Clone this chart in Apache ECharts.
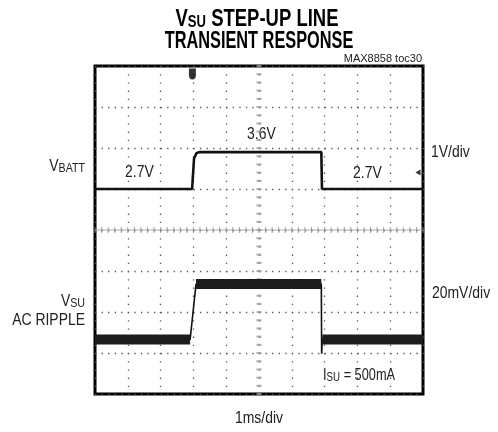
<!DOCTYPE html>
<html><head><meta charset="utf-8">
<script src="https://cdn.jsdelivr.net/npm/echarts@6/dist/echarts.min.js"></script>
<style>html,body{margin:0;padding:0;background:#fff}#c{width:498px;height:432px}</style>
</head><body><div id="c"></div>
<script>
// ---- data read from the scope shot ----
// time axis: 1 ms/div, 10 divisions
const timeTicks = [0,1,2,3,4,5,6,7,8,9,10];
// VBATT (volts), 1 V/div
const vbattTime  = [0, 2.96, 3.02, 3.10, 3.20, 6.90, 6.92, 10];
const vbattValue = [2.7, 2.7, 3.45, 3.58, 3.6, 3.6, 2.7, 2.7];
// VSU AC ripple (mV, relative), 20 mV/div
const vsuTime  = [0, 2.90, 3.08, 6.90, 6.91, 6.93, 10];
const vsuValue = [0, 0, 27, 27, -7, 0, 0];
// markers
const triggerTime = 2.97;
const ch1MarkerDiv = 1.4;
// labels
const levelLabels = ['2.7V', '3.6V', '2.7V'];

const FONT = "'Liberation Sans',Arial,sans-serif";
const TXT = '#222';
const SX = 0.82;

const vbattData = vbattTime.map((t,i)=>[t, vbattValue[i]]);
const vsuData = vsuTime.map((t,i)=>[t, vsuValue[i]]);
// thick noise band only over flat parts
const vsuBand = [];
for (let i=0;i<vsuTime.length;i++){
  vsuBand.push([vsuTime[i], vsuValue[i]]);
  if (i<vsuTime.length-1 && vsuValue[i+1]!==vsuValue[i]) vsuBand.push([vsuTime[i], '-']);
}
// center graticule ticks (1/5 division)
const hTicks=[], vTicks=[];
for (let k=0;k<=50;k++) hTicks.push([k/5, 0]);
for (let k=-20;k<=20;k++) vTicks.push([5, k/5]);

const chart = echarts.init(document.getElementById('c'), null, {renderer:'canvas'});

function txt(text, x, y, align, opts){
  opts = opts || {};
  const fs = opts.fs || 17, ss = opts.ss || 13, w = opts.bold ? 'bold' : 'normal', col = opts.color || TXT;
  return {type:'text', x:x, y:y, scaleX:opts.sx || SX, silent:true, style:{
    text:text, fill:col, font:w+' '+fs+'px '+FONT, align:align||'left', verticalAlign:'middle',
    rich:{
      v:{fontSize:fs, fontFamily:FONT, fontWeight:w, fill:col, lineHeight:fs+4, verticalAlign:'bottom'},
      s:{fontSize:ss, fontFamily:FONT, fontWeight:w, fill:col, lineHeight:ss, verticalAlign:'bottom'}
    }}};
}

chart.setOption({
  animation:false,
  backgroundColor:'#fff',
  grid:{left:95, top:66, width:328, height:328, show:true, borderColor:'#000', borderWidth:3, backgroundColor:'transparent'},
  xAxis:{type:'value', min:0, max:10, interval:1,
    axisLine:{show:false}, axisTick:{show:false}, axisLabel:{show:false},
    splitLine:{show:true, lineStyle:{color:'#555', width:1.3, type:[1.3,6.9]}}},
  yAxis:[
    {type:'value', min:-4, max:4, interval:1,
      axisLine:{show:false}, axisTick:{show:false}, axisLabel:{show:false},
      splitLine:{show:true, lineStyle:{color:'#555', width:1.3, type:[1.3,5.26]}}},
    {type:'value', min:-2.3, max:5.7, show:false, splitLine:{show:false}},
    {type:'value', min:-26.6, max:133.4, show:false, splitLine:{show:false}}
  ],
  series:[
    {type:'line', yAxisIndex:0, data:[[0,0],[10,0]], symbol:'none', silent:true,
      lineStyle:{color:'#aaa', width:1}, z:1},
    {type:'scatter', yAxisIndex:0, data:hTicks, symbol:'rect', symbolSize:[1,6], silent:true,
      itemStyle:{color:'#888'}, z:1},
    {type:'scatter', yAxisIndex:0, data:vTicks, symbol:'rect', symbolSize:[5,2], silent:true,
      itemStyle:{color:'#999'}, z:1},
    {type:'line', yAxisIndex:1, data:vbattData, symbol:'none', silent:true,
      lineStyle:{color:'#111', width:2.6}, z:5},
    {type:'line', yAxisIndex:2, data:vsuData, symbol:'none', silent:true,
      lineStyle:{color:'#111', width:1.6}, z:5},
    {type:'line', yAxisIndex:2, data:vsuBand, symbol:'none', silent:true, connectNulls:false,
      lineStyle:{color:'#1c1c1c', width:10}, z:5},
    {type:'scatter', yAxisIndex:0, data:[[triggerTime, 4]], silent:true,
      symbol:'path://M0,0 L10,0 L10,9 Q10,15 5,15 Q0,15 0,9 Z', symbolSize:[7,11], symbolOffset:[0,8],
      itemStyle:{color:'#000'}, z:6},
    {type:'scatter', yAxisIndex:0, data:[[10, ch1MarkerDiv]], silent:true,
      symbol:'triangle', symbolRotate:90, symbolSize:[6,5], symbolOffset:[-5,0],
      itemStyle:{color:'#000'}, z:6}
  ],
  graphic:[
    txt('{v|V}{s|SU}{v| STEP-UP LINE}', 257, 17, 'center', {fs:24, ss:17, bold:true, sx:0.77, color:'#000'}),
    txt('TRANSIENT RESPONSE', 259, 41, 'center', {fs:24, bold:true, sx:0.68, color:'#000'}),
    txt('MAX8858 toc30', 422, 59, 'right', {fs:11, sx:1}),
    txt('{v|V}{s|BATT}', 85, 164, 'right'),
    txt(levelLabels[0], 125, 172, 'left'),
    txt(levelLabels[1], 247, 134, 'left'),
    txt(levelLabels[2], 353, 173, 'left'),
    txt('1V/div', 431, 152, 'left'),
    txt('{v|V}{s|SU}', 85, 299, 'right'),
    txt('AC RIPPLE', 85, 320, 'right'),
    txt('20mV/div', 432, 293, 'left'),
    txt('{v|I}{s|SU}{v| = 500mA}', 323, 373, 'left', {sx:0.75}),
    txt('1ms/div', 259, 418, 'center')
  ]
});
</script></body></html>
